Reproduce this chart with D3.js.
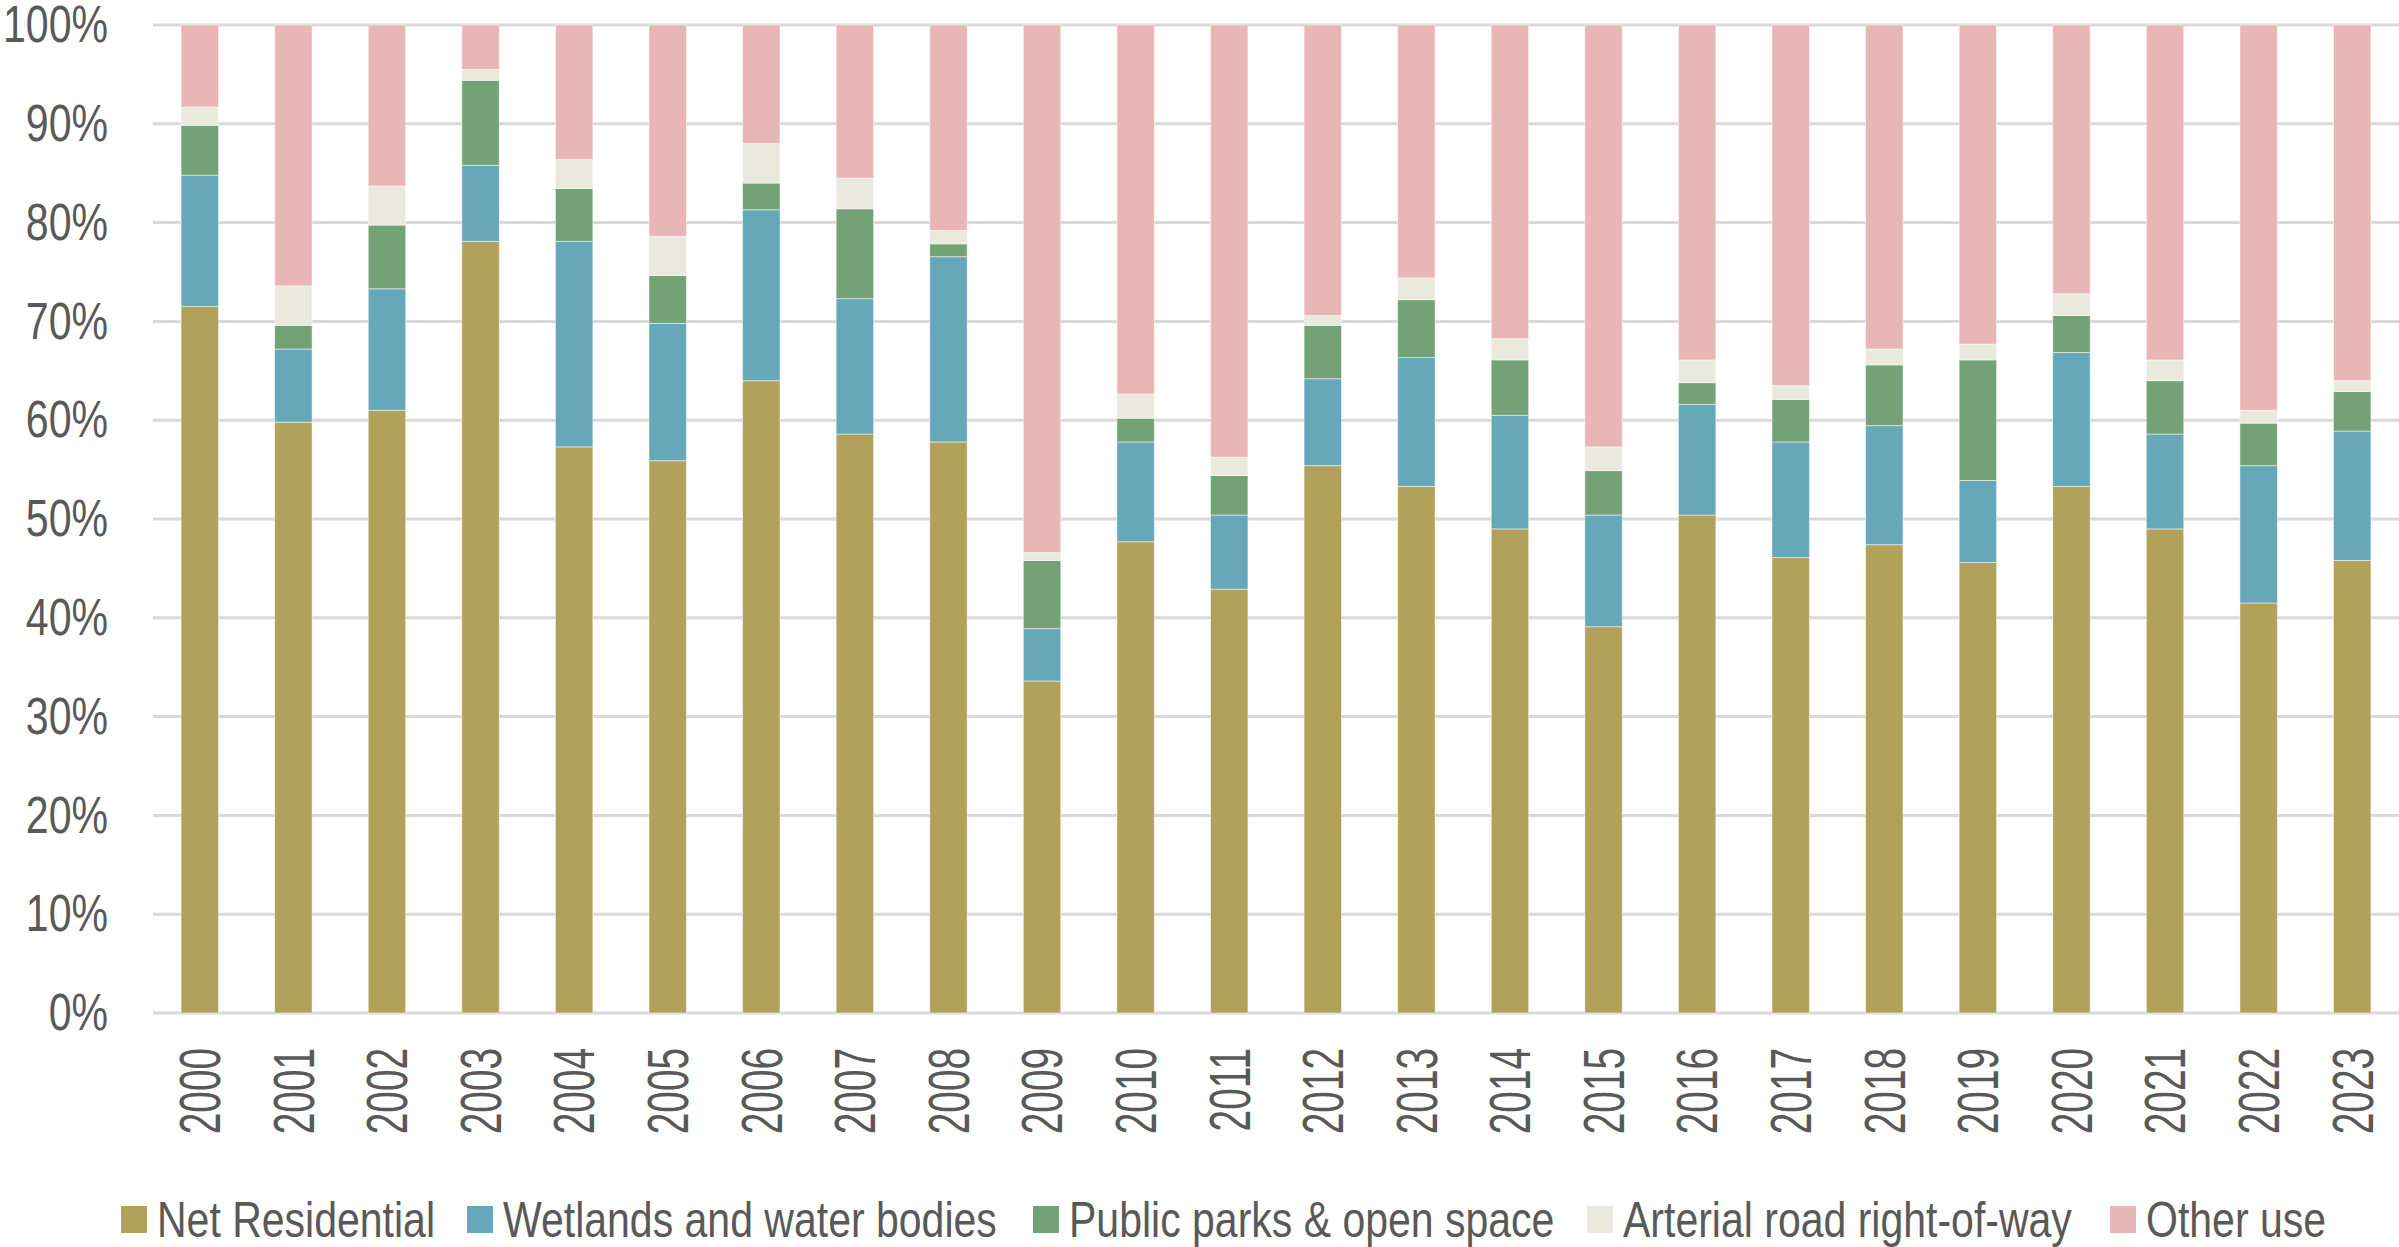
<!DOCTYPE html>
<html>
<head>
<meta charset="utf-8">
<script src="https://cdn.jsdelivr.net/npm/d3@7"></script>
<style>
  html, body { margin: 0; padding: 0; background: #fff; }
  svg text { font-family: 'Liberation Sans', Arial, sans-serif; fill: #595959; }
</style>
</head>
<body>
<svg id="chart" width="2399" height="1247"></svg>
<script>
const years = ["2000","2001","2002","2003","2004","2005","2006","2007","2008","2009","2010","2011","2012","2013","2014","2015","2016","2017","2018","2019","2020","2021","2022","2023"];
const seriesNames = ["Net Residential","Wetlands and water bodies","Public parks & open space","Arterial road right-of-way","Other use"];
const netResidential = [71.5,59.8,61.0,78.1,57.3,55.9,64.0,58.6,57.8,33.6,47.7,42.9,55.4,53.3,49.0,39.1,50.4,46.1,47.4,45.6,53.3,49.0,41.5,45.8];
const wetlands       = [13.3,7.4,12.3,7.7,20.8,13.9,17.3,13.7,18.75,5.3,10.1,7.5,8.8,13.05,11.5,11.3,11.2,11.7,12.05,8.3,13.55,9.6,13.9,13.1];
const publicParks    = [5.05,2.4,6.45,8.6,5.35,4.85,2.7,9.1,1.3,6.9,2.4,4.0,5.4,5.85,5.6,4.5,2.2,4.3,6.15,12.2,3.75,5.4,4.3,4.0];
const arterialRoad   = [1.85,4.0,3.95,1.1,2.95,3.95,4.0,3.1,1.35,0.8,2.45,1.85,1.0,2.2,2.15,2.4,2.3,1.4,1.6,1.6,2.2,2.1,1.3,1.1];
const otherUse       = [8.3,26.4,16.3,4.5,13.6,21.4,12.0,15.5,20.8,53.4,37.35,43.75,29.4,25.6,31.75,42.7,33.9,36.5,32.8,32.3,27.2,33.9,39.0,36.0];
const yTicks = [0,10,20,30,40,50,60,70,80,90,100];
const colors = ["#B2A15A","#66A7BA","#72A275","#E9E9DE","#E8B6B7"];

const seriesValues = [netResidential, wetlands, publicParks, arterialRoad, otherUse];
const rows = years.map((yr, i) => {
  const r = { year: yr };
  seriesNames.forEach((s, k) => r[s] = seriesValues[k][i]);
  return r;
});

const svg = d3.select("#chart");
const plotLeft = 153, plotRight = 2399, plotTop = 25, plotBottom = 1013;

const x = d3.scaleBand().domain(years).range([plotLeft, plotRight]).paddingInner(0.6).paddingOuter(0.3);
const y = d3.scaleLinear().domain([0, 100]).range([plotBottom, plotTop]);

// gridlines
svg.append("g").selectAll("line").data(yTicks).join("line")
  .attr("x1", plotLeft).attr("x2", plotRight)
  .attr("y1", d => y(d)).attr("y2", d => y(d))
  .attr("stroke", "#D9D9D9").attr("stroke-width", 3);

// y axis labels (condensed font)
const yAxis = d3.axisLeft(y).tickValues(yTicks).tickFormat(d => d + "%").tickSize(0).tickPadding(0);
const gy = svg.append("g").attr("transform", `translate(108,0)`).call(yAxis);
gy.select(".domain").remove();
gy.selectAll("text").attr("font-size", 52).attr("fill", "#595959")
  .attr("font-family", "'Liberation Sans', Arial, sans-serif")
  .attr("transform", "scale(0.79,1)");

// stacked bars
const stacked = d3.stack().keys(seriesNames)(rows);
svg.append("g").selectAll("g").data(stacked).join("g")
  .attr("fill", (d, i) => colors[i])
  .selectAll("rect").data(d => d).join("rect")
  .attr("x", d => x(d.data.year))
  .attr("width", x.bandwidth())
  .attr("y", d => y(d[1]))
  .attr("height", d => y(d[0]) - y(d[1]))
  .attr("stroke", "#ffffff").attr("stroke-opacity", 0.5).attr("stroke-width", 1);

// x axis labels (rotated, condensed)
const xAxis = d3.axisBottom(x).tickSize(0).tickPadding(0);
const gx = svg.append("g").attr("transform", `translate(0,${plotBottom})`).call(xAxis);
gx.select(".domain").remove();
gx.selectAll("text")
  .attr("font-size", 58).attr("fill", "#595959")
  .attr("font-family", "'Liberation Sans', Arial, sans-serif")
  .attr("text-anchor", "end")
  .attr("transform", "rotate(-90) scale(0.67,1)")
  .attr("x", -52).attr("y", 0).attr("dy", "0.35em");

// legend
const legendX = [121, 467, 1033, 1587, 2110];
const leg = svg.append("g").selectAll("g").data(seriesNames).join("g")
  .attr("transform", (d, i) => `translate(${legendX[i]},1206)`);
leg.append("rect").attr("width", 26).attr("height", 27).attr("fill", (d, i) => colors[i]);
leg.append("text")
  .attr("transform", "translate(36,13.5) scale(0.82,1)")
  .attr("dy", "0.35em")
  .attr("font-size", 50).text(d => d);
</script>
</body>
</html>
